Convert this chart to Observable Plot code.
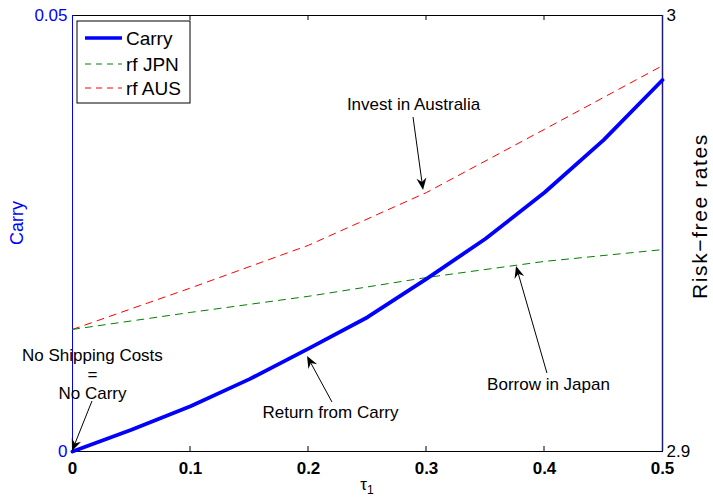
<!DOCTYPE html>
<html><head><meta charset="utf-8">
<script src="https://cdn.jsdelivr.net/npm/d3@7"></script>
<script src="https://cdn.jsdelivr.net/npm/@observablehq/plot@0.6"></script>
<style>body{margin:0;background:#fff;} #chart svg{font-family:"Liberation Sans",Arial,sans-serif;}</style>
</head><body><div id="chart"></div>
<script>
// ---- data ----
const tau = [0, 0.05, 0.1, 0.15, 0.2, 0.25, 0.3, 0.35, 0.4, 0.45, 0.5];
const carry = [0, 0.0025, 0.0052, 0.0083, 0.0118, 0.0154, 0.0198, 0.0244, 0.0297, 0.0357, 0.0426];
const tauRf = [0, 0.1, 0.2, 0.3, 0.4, 0.5];
const rfJPN = [2.9280, 2.9319, 2.9356, 2.9399, 2.9436, 2.9463];
const rfAUS = [2.9280, 2.9375, 2.9473, 2.9594, 2.9739, 2.9885];
const xTicks = [0, 0.1, 0.2, 0.3, 0.4, 0.5];
const leftTicks = [0, 0.05];
const rightTicks = [2.9, 3];
const carryDomain = [0, 0.05];
const rfDomain = [2.9, 3];
const seriesNames = ["Carry", "rf JPN", "rf AUS"];
const seriesColors = ["#0000ff", "#008000", "#ff0000"];
const leftLabel = "Carry";
const rightLabel = "Risk\u2212free rates";
// annotations in data units (x: tau, y: carry axis units)
const annoLabels = ["Invest in Australia", "Return from Carry", "Borrow in Japan", "No Shipping Costs\n=\nNo Carry"];
const annoTextX = [0.289, 0.2186, 0.4034, 0.0169];
const annoTextY = [0.0399, 0.00459, 0.0078, 0.00894];
const annoFromX = [0.289, 0.2203, 0.4025, 0.0169];
const annoFromY = [0.0383, 0.00562, 0.00894, 0.00573];
const annoToX = [0.2975, 0.1992, 0.3763, 0];
const annoToY = [0.02993, 0.01089, 0.02122, 0];

// ---- derived tables ----
const toCarry = v => carryDomain[0] + (v - rfDomain[0]) / (rfDomain[1] - rfDomain[0]) * (carryDomain[1] - carryDomain[0]);
const carryRows = tau.map((t, i) => ({t, y: carry[i]}));
const jpnRows = tauRf.map((t, i) => ({t, y: toCarry(rfJPN[i])}));
const ausRows = tauRf.map((t, i) => ({t, y: toCarry(rfAUS[i])}));
const annos = annoLabels.map((label, i) => ({label, tx: annoTextX[i], ty: annoTextY[i],
  fx: annoFromX[i], fy: annoFromY[i], ex: annoToX[i], ey: annoToY[i]}));

function arrowsMark(index, scales, values, dim) {
  const g = d3.create("svg:g");
  for (const a of annos) {
    const x1 = scales.x(a.fx), y1 = scales.y(a.fy), x2 = scales.x(a.ex), y2 = scales.y(a.ey);
    const ang = Math.atan2(y2 - y1, x2 - x1);
    const L = 12, W = 5, N = 8;
    const c = Math.cos(ang), s = Math.sin(ang);
    const bx = x2 - N * c, by = y2 - N * s;
    g.append("line").attr("x1", x1).attr("y1", y1).attr("x2", bx).attr("y2", by)
      .attr("stroke", "#000").attr("stroke-width", 1);
    const lx = x2 - L * c - W * s, ly = y2 - L * s + W * c;
    const rx = x2 - L * c + W * s, ry = y2 - L * s - W * c;
    g.append("path").attr("d", `M${x2},${y2}L${lx},${ly}L${bx},${by}L${rx},${ry}Z`).attr("fill", "#000");
  }
  return g.node();
}

function ticksMark(index, scales, values, dim) {
  const g = d3.create("svg:g");
  const top = dim.marginTop, bottom = dim.height - dim.marginBottom;
  for (const t of xTicks.slice(1, -1)) {
    const x = scales.x(t);
    g.append("line").attr("x1", x).attr("x2", x).attr("y1", bottom).attr("y2", bottom - 5).attr("stroke", "#000");
    g.append("line").attr("x1", x).attr("x2", x).attr("y1", top).attr("y2", top + 5).attr("stroke", "#000");
  }
  return g.node();
}

function labelsMark(index, scales, values, dim) {
  const g = d3.create("svg:g");
  const cx = dim.marginLeft + (dim.width - dim.marginLeft - dim.marginRight) / 2;
  const cy = dim.marginTop + (dim.height - dim.marginTop - dim.marginBottom) / 2;
  const t = g.append("text").attr("x", cx).attr("y", dim.height - 8).attr("text-anchor", "middle")
    .attr("font-size", 17).attr("fill", "#000");
  t.append("tspan").text("τ");
  t.append("tspan").attr("font-size", 12).attr("dy", 4).text("1");
  g.append("text").attr("transform", `translate(${dim.marginLeft - 49},${cy - 10}) rotate(-90)`)
    .attr("text-anchor", "middle").attr("font-size", 18).attr("fill", "#0000ff").text(leftLabel);
  g.append("text").attr("transform", `translate(${dim.width - 6},${cy - 17}) rotate(-90)`)
    .attr("text-anchor", "middle").attr("font-size", 21).attr("letter-spacing", 1.6)
    .attr("fill", "#000").text(rightLabel);
  return g.node();
}

function legendMark(index, scales, values, dim) {
  const g = d3.create("svg:g");
  const x0 = dim.marginLeft + 5, y0 = dim.marginTop + 6;
  g.append("rect").attr("x", x0).attr("y", y0).attr("width", 113).attr("height", 82)
    .attr("fill", "#fff").attr("stroke", "#000").attr("stroke-width", 1);
  const rowsY = [23, 49, 73];
  seriesNames.forEach((name, i) => {
    const y = y0 + rowsY[i] - 6;
    g.append("line").attr("x1", x0 + 8).attr("x2", x0 + 45).attr("y1", y).attr("y2", y)
      .attr("stroke", seriesColors[i]).attr("stroke-width", i === 0 ? 3.5 : 1)
      .attr("stroke-dasharray", i === 0 ? null : "6,5");
    g.append("text").attr("x", x0 + 49).attr("y", y).attr("dy", "0.35em").attr("text-anchor", "start")
      .attr("font-size", 19).attr("fill", "#000").text(name);
  });
  return g.node();
}

const plot = Plot.plot({
  width: 713,
  height: 498,
  marginLeft: 72,
  marginRight: 51,
  marginTop: 15,
  marginBottom: 47,
  style: {fontFamily: "Liberation Sans, Arial, sans-serif", fontSize: "17px", background: "#fff"},
  x: {domain: [0, 0.5]},
  y: {domain: carryDomain},
  marks: [
    Plot.frame({stroke: "#000"}),
    Plot.ruleX([0], {stroke: "#0000ff"}),
    Plot.ruleX([0.5], {stroke: "#1c1c7a", strokeWidth: 1.5}),
    ticksMark,
    Plot.axisX(xTicks, {tickSize: 0, tickPadding: 10, fontSize: 17, fontWeight: "bold", label: null, tickFormat: d => d === 0 ? "0" : String(d)}),
    Plot.axisY(leftTicks, {anchor: "left", tickSize: 0, tickPadding: 5, fontSize: 17, color: "#0000ff", label: null, tickFormat: d => String(d)}),
    Plot.axisY(leftTicks, {anchor: "right", tickSize: 0, tickPadding: 4, fontSize: 17, label: null,
      tickFormat: d => String(rightTicks[leftTicks.indexOf(d)])}),
    Plot.line(ausRows, {x: "t", y: "y", stroke: seriesColors[2], strokeWidth: 1, strokeDasharray: "7,6"}),
    Plot.line(jpnRows, {x: "t", y: "y", stroke: seriesColors[1], strokeWidth: 1, strokeDasharray: "7,6"}),
    Plot.line(carryRows, {x: "t", y: "y", stroke: seriesColors[0], strokeWidth: 3.8}),
    Plot.text(annos, {x: "tx", y: "ty", text: "label", fontSize: 17, lineHeight: 1.12, fill: "#000"}),
    arrowsMark,
    labelsMark,
    legendMark
  ]
});
document.getElementById("chart").appendChild(plot);
</script>
</body></html>
